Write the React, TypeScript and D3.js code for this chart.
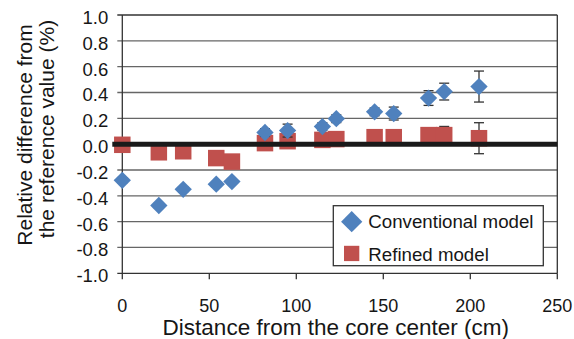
import React, { useEffect, useRef } from 'react';
import * as d3 from 'd3';

// distances (cm) of the measured positions
const distances = [0, 21, 35, 54, 63, 82, 95, 115, 123, 145, 156, 176, 185, 205];
// relative difference (%) - conventional model
const conventional = [-0.28, -0.475, -0.35, -0.31, -0.29, 0.09, 0.105, 0.136, 0.197, 0.25, 0.237, 0.357, 0.407, 0.446];
const conventionalErr = [0.02, 0.02, 0.02, 0.02, 0.02, 0.03, 0.05, 0.03, 0.03, 0.03, 0.05, 0.057, 0.065, 0.12];
// relative difference (%) - refined model
const refined = [-0.005, -0.063, -0.055, -0.108, -0.135, 0.008, 0.023, 0.033, 0.039, 0.054, 0.054, 0.07, 0.07, 0.046];
const refinedErr = [0.02, 0.02, 0.02, 0.02, 0.02, 0.02, 0.02, 0.02, 0.02, 0.03, 0.03, 0.04, 0.067, 0.12];

const xTicks = [0, 50, 100, 150, 200, 250];
const yTicks = [-1.0, -0.8, -0.6, -0.4, -0.2, 0.0, 0.2, 0.4, 0.6, 0.8, 1.0];
const legendLabels = ['Conventional model', 'Refined model'];

const BLUE = '#4f81bd';
const RED = '#c0504d';
const FONT = '"Liberation Sans", Arial, sans-serif';
const INK = '#161616';

const App = () => {
    const ref = useRef<SVGSVGElement>(null);

    useEffect(() => {
        const width = 574;
        const height = 339;
        const margin = { top: 15, right: 16.7, bottom: 65.7, left: 122.3 };

        const svg = d3.select(ref.current);
        svg.selectAll('*').remove();

        const x = d3.scaleLinear().domain([0, 250]).range([margin.left, width - margin.right]);
        const y = d3.scaleLinear().domain([-1, 1]).range([height - margin.bottom, margin.top]);

        // grid lines
        svg.append('g')
            .selectAll('line')
            .data(yTicks)
            .join('line')
            .attr('x1', x(0) - 5)
            .attr('x2', x(250))
            .attr('y1', (d) => y(d))
            .attr('y2', (d) => y(d))
            .attr('stroke', (d) => (d === 1 || d === -1 ? '#333' : '#666'))
            .attr('stroke-width', 1.3);

        // y axis line + right border
        svg.append('line')
            .attr('x1', x(0)).attr('x2', x(0))
            .attr('y1', y(1)).attr('y2', y(-1))
            .attr('stroke', '#333').attr('stroke-width', 1.3);
        svg.append('line')
            .attr('x1', x(250)).attr('x2', x(250))
            .attr('y1', y(1)).attr('y2', y(-1))
            .attr('stroke', '#333').attr('stroke-width', 1.3);

        // x axis ticks
        svg.append('g')
            .selectAll('line')
            .data(xTicks)
            .join('line')
            .attr('x1', (d) => x(d)).attr('x2', (d) => x(d))
            .attr('y1', y(-1)).attr('y2', y(-1) + 6)
            .attr('stroke', '#333').attr('stroke-width', 1.3);

        svg.append('g')
            .selectAll('text')
            .data(xTicks)
            .join('text')
            .attr('x', (d) => x(d))
            .attr('y', 311.5)
            .attr('text-anchor', 'middle')
            .style('font-family', FONT)
            .style('font-size', '18px')
            .style('fill', INK)
            .text((d) => d);

        svg.append('g')
            .selectAll('text')
            .data(yTicks)
            .join('text')
            .attr('x', x(0) - 14)
            .attr('y', (d) => y(d) + 9)
            .attr('text-anchor', 'end')
            .style('font-family', FONT)
            .style('font-size', '18.5px')
            .style('fill', INK)
            .text((d) => d.toFixed(1));

        // axis titles
        svg.append('text')
            .attr('x', (x(0) + x(250)) / 2 - 4)
            .attr('y', 335)
            .attr('text-anchor', 'middle')
            .style('font-family', FONT)
            .style('font-size', '22.5px')
            .style('fill', INK)
            .text('Distance from the core center (cm)');

        const yTitle = ['Relative difference from', 'the reference value (%)'];
        svg.append('g')
            .selectAll('text')
            .data(yTitle)
            .join('text')
            .attr('transform', (d, i) => `translate(${i === 0 ? 32 : 54},${i === 0 ? 135 : 129}) rotate(-90)`)
            .attr('text-anchor', 'middle')
            .style('font-family', FONT)
            .style('font-size', '21px')
            .style('fill', INK)
            .text((d) => d);

        const pts = distances.map((d, i) => ({
            d, c: conventional[i], ce: conventionalErr[i], r: refined[i], re: refinedErr[i],
        }));

        const errBar = (g, key, errKey) => {
            g.selectAll('g')
                .data(pts)
                .join('g')
                .each(function (p) {
                    const s = d3.select(this);
                    const cx = x(p.d);
                    const lo = y(p[key] - p[errKey]);
                    const hi = y(p[key] + p[errKey]);
                    s.append('line').attr('x1', cx).attr('x2', cx).attr('y1', lo).attr('y2', hi);
                    s.append('line').attr('x1', cx - 5).attr('x2', cx + 5).attr('y1', lo).attr('y2', lo);
                    s.append('line').attr('x1', cx - 5).attr('x2', cx + 5).attr('y1', hi).attr('y2', hi);
                });
            g.attr('stroke', '#333').attr('stroke-width', 1.3);
        };

        // refined model
        errBar(svg.append('g'), 'r', 're');
        const sq = 16.5;
        svg.append('g')
            .selectAll('rect')
            .data(pts)
            .join('rect')
            .attr('x', (p) => x(p.d) - sq / 2)
            .attr('y', (p) => y(p.r) - sq / 2)
            .attr('width', sq)
            .attr('height', sq)
            .attr('fill', RED);

        // zero line
        svg.append('line')
            .attr('x1', x(0) - 10)
            .attr('x2', x(250))
            .attr('y1', y(0))
            .attr('y2', y(0))
            .attr('stroke', '#1a1a1a')
            .attr('stroke-width', 5);

        // conventional model
        errBar(svg.append('g'), 'c', 'ce');
        const diamond = d3.symbol().type(d3.symbolSquare).size(150);
        svg.append('g')
            .selectAll('path')
            .data(pts)
            .join('path')
            .attr('d', diamond)
            .attr('transform', (p) => `translate(${x(p.d)},${y(p.c)}) rotate(45)`)
            .attr('fill', BLUE);

        // legend
        const lg = svg.append('g');
        lg.append('rect')
            .attr('x', 333.3).attr('y', 205.7)
            .attr('width', 210).attr('height', 60)
            .attr('fill', 'white')
            .attr('stroke', '#333').attr('stroke-width', 1.3);
        lg.append('path')
            .attr('d', d3.symbol().type(d3.symbolSquare).size(225))
            .attr('transform', 'translate(351.7,221.7) rotate(45)')
            .attr('fill', BLUE);
        lg.append('rect')
            .attr('x', 344).attr('y', 245.8)
            .attr('width', 15.3).attr('height', 15.3)
            .attr('fill', RED);
        lg.selectAll('text')
            .data(legendLabels)
            .join('text')
            .attr('x', 368.3)
            .attr('y', (d, i) => (i === 0 ? 228.3 : 261))
            .style('font-family', FONT)
            .style('font-size', '18.7px')
            .style('fill', INK)
            .text((d) => d);
    }, []);

    return (
        <svg
            ref={ref}
            width={574}
            height={339}
            style={{ position: 'absolute', left: 0, top: 0, background: 'white' }}
        />
    );
};

export default App;
